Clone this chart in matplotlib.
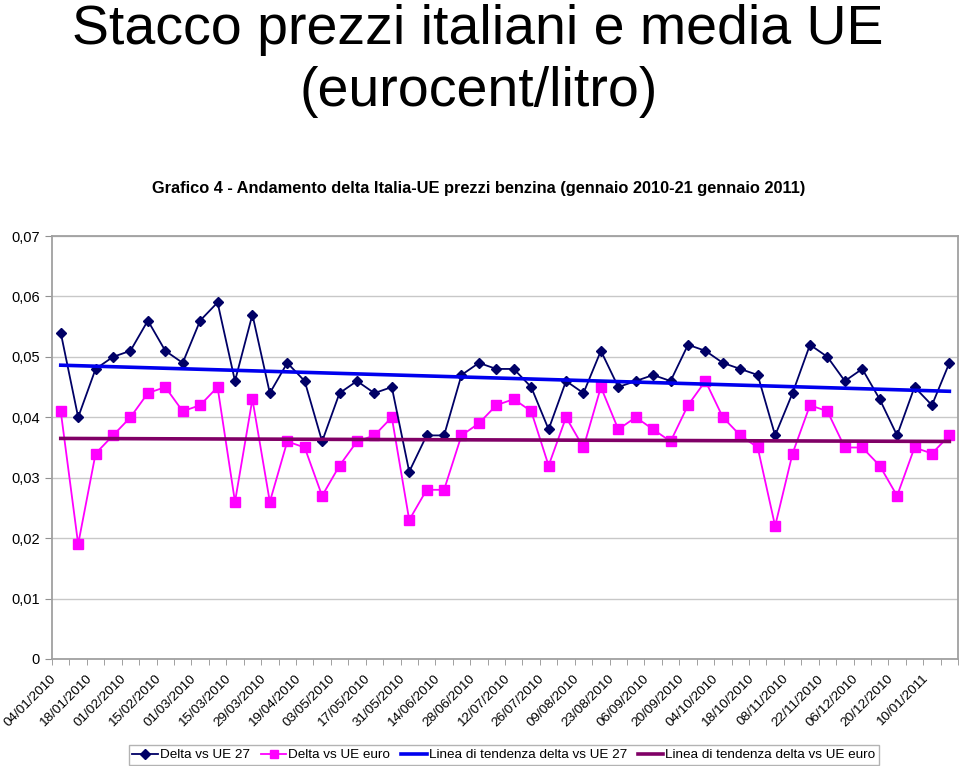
import numpy as np
import matplotlib.pyplot as plt
from matplotlib.ticker import FuncFormatter, FixedLocator

plt.rcParams['font.family'] = ['Liberation Sans', 'DejaVu Sans']

# weekly dates (some weeks missing, as in the source table)
dates = ['04/01/2010', '11/01/2010', '18/01/2010', '25/01/2010', '01/02/2010', '08/02/2010',
         '15/02/2010', '22/02/2010', '01/03/2010', '08/03/2010', '15/03/2010', '22/03/2010',
         '29/03/2010', '12/04/2010', '19/04/2010', '26/04/2010', '03/05/2010', '10/05/2010',
         '17/05/2010', '24/05/2010', '31/05/2010', '07/06/2010', '14/06/2010', '21/06/2010',
         '28/06/2010', '05/07/2010', '12/07/2010', '19/07/2010', '26/07/2010', '02/08/2010',
         '09/08/2010', '16/08/2010', '23/08/2010', '30/08/2010', '06/09/2010', '13/09/2010',
         '20/09/2010', '27/09/2010', '04/10/2010', '11/10/2010', '18/10/2010', '25/10/2010',
         '08/11/2010', '15/11/2010', '22/11/2010', '29/11/2010', '06/12/2010', '13/12/2010',
         '20/12/2010', '27/12/2010', '10/01/2011', '17/01/2011']

delta_ue27 = [0.054, 0.040, 0.048, 0.050, 0.051, 0.056, 0.051, 0.049, 0.056, 0.059,
              0.046, 0.057, 0.044, 0.049, 0.046, 0.036, 0.044, 0.046, 0.044, 0.045,
              0.031, 0.037, 0.037, 0.047, 0.049, 0.048, 0.048, 0.045, 0.038, 0.046,
              0.044, 0.051, 0.045, 0.046, 0.047, 0.046, 0.052, 0.051, 0.049, 0.048,
              0.047, 0.037, 0.044, 0.052, 0.050, 0.046, 0.048, 0.043, 0.037, 0.045,
              0.042, 0.049]

delta_euro = [0.041, 0.019, 0.034, 0.037, 0.040, 0.044, 0.045, 0.041, 0.042, 0.045,
              0.026, 0.043, 0.026, 0.036, 0.035, 0.027, 0.032, 0.036, 0.037, 0.040,
              0.023, 0.028, 0.028, 0.037, 0.039, 0.042, 0.043, 0.041, 0.032, 0.040,
              0.035, 0.045, 0.038, 0.040, 0.038, 0.036, 0.042, 0.046, 0.040, 0.037,
              0.035, 0.022, 0.034, 0.042, 0.041, 0.035, 0.035, 0.032, 0.027, 0.035,
              0.034, 0.037]

x = np.arange(len(dates))

# linear trend lines, as in the spreadsheet
trend_ue27 = np.polyval(np.polyfit(x, delta_ue27, 1), x)
trend_euro = np.polyval(np.polyfit(x, delta_euro, 1), x)

fig = plt.figure(figsize=(9.6, 7.66), dpi=100)
ax = fig.add_axes([0.0542, 0.1397, 0.9438, 0.5522])

ax.plot(x, delta_ue27, color='#000066', lw=1.3, marker='D', ms=5.5,
        label='Delta vs UE 27', zorder=4)
ax.plot(x, delta_euro, color='#FF00FF', lw=1.3, marker='s', ms=6.5,
        label='Delta vs UE euro', zorder=3)
ax.plot(x, trend_ue27, color='#0000EE', lw=2.6,
        label='Linea di tendenza delta vs UE 27', zorder=5)
ax.plot(x, trend_euro, color='#800066', lw=2.6,
        label='Linea di tendenza delta vs UE euro', zorder=5)

ax.set_ylim(0, 0.07)
ax.set_yticks(np.arange(0, 0.071, 0.01))
ax.yaxis.set_major_formatter(FuncFormatter(
    lambda v, p: '0' if abs(v) < 1e-9 else f'{v:.2f}'.replace('.', ',')))
ax.grid(axis='y', color='#c8c8c8', lw=1)
ax.set_axisbelow(True)

# tick marks between categories, date labels every second week
ax.set_xticks(x[::2])
ax.set_xticklabels([])
ax.xaxis.set_minor_locator(FixedLocator(np.arange(-0.5, len(dates), 1)))
ax.set_xlim(-0.5, len(dates) - 0.5)
ax.tick_params(axis='x', which='major', length=0)
ax.tick_params(axis='x', which='minor', length=4, color='#909090')
ax.tick_params(axis='y', length=5, color='#909090', labelsize=10.5, pad=4)
for xi, lab in zip(x[::2], dates[::2]):
    ax.annotate(lab, xy=(xi, 0), xycoords=('data', 'axes fraction'),
                xytext=(-7.5, -10), textcoords='offset points',
                rotation=45, rotation_mode='anchor', ha='right', va='top',
                fontsize=9.7, annotation_clip=False)

for s in ax.spines.values():
    s.set_color('#a0a0a0')
    s.set_linewidth(1.3)

fig.text(0.498, 1 - 44 / 766, 'Stacco prezzi italiani e media UE',
         ha='center', va='baseline', fontsize=40)
fig.text(0.499, 1 - 106 / 766, '(eurocent/litro)',
         ha='center', va='baseline', fontsize=40)
fig.text(0.499, 1 - 193 / 766,
         'Grafico 4 - Andamento delta Italia-UE prezzi benzina (gennaio 2010-21 gennaio 2011)',
         ha='center', va='baseline', fontsize=11.8, fontweight='bold')

leg = fig.legend(loc='lower center', bbox_to_anchor=(0.525, -0.007), ncol=4,
                 fontsize=9.7, frameon=True, fancybox=False, edgecolor='#a0a0a0',
                 handlelength=1.9, handletextpad=0.15, columnspacing=0.8,
                 borderpad=0.25, markerscale=0.85)
leg.get_frame().set_linewidth(1)

fig.savefig('out.png', dpi=100, facecolor='white')
